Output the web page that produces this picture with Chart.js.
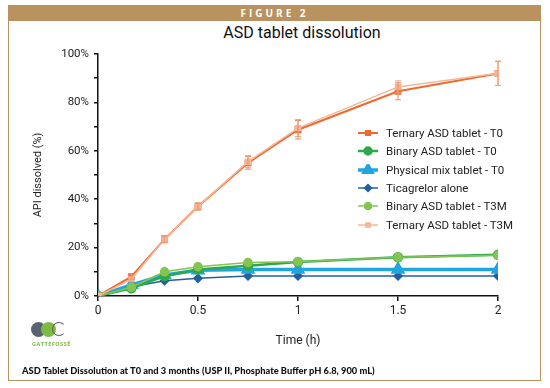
<!DOCTYPE html>
<html>
<head>
<meta charset="utf-8">
<script src="https://cdn.jsdelivr.net/npm/chart.js@4.4.1/dist/chart.umd.min.js"></script>
<style>
  html, body { margin: 0; padding: 0; background: #fff; }
  #wrap { position: relative; width: 550px; height: 388px; overflow: hidden; font-family: Roboto, "DejaVu Sans", sans-serif; }
  #frame { position: absolute; left: 8px; top: 5px; width: 533px; height: 376px; border: 1.5px solid #b9925f; box-sizing: border-box; }
  #head { position: absolute; left: 8px; top: 5px; width: 533px; height: 16px; background: #b9925f; color: #fff;
          font: bold 10px "Open Sans", sans-serif; letter-spacing: 3px; text-align: center; line-height: 16px; }
  #title { position: absolute; left: 0; width: 604px; top: 23px; text-align: center; font-size: 16px; color: #111; }
  #chart { position: absolute; left: 0; top: 0; }
  #legend { position: absolute; left: 358px; top: 124px; font-size: 11.5px; color: #222; }
  .row { height: 18.3px; display: flex; align-items: center; }
  .row canvas { margin-right: 8px; }
  #caption { position: absolute; left: 22px; top: 365px; font: 900 9.3px Lato, sans-serif; color: #111; }
  #logo { position: absolute; left: 31px; top: 322px; width: 60px; height: 30px; }
  .c1 { position: absolute; left: 0; top: 0; width: 15px; height: 15px; border-radius: 50%; background: #5a6470; }
  .c2 { position: absolute; left: 10px; top: 0; width: 15px; height: 15px; border-radius: 50%; background: #7dbb42; }
  .c3 { position: absolute; left: 21px; top: 0; width: 12px; height: 12px; border-radius: 50%; border: 1.5px solid #5a6470; border-right-color: transparent; }
  .lt { position: absolute; left: 1px; top: 18px; font: bold 5.5px "Open Sans", sans-serif; color: #7dbb42; letter-spacing: 0.5px; }
</style>
</head>
<body>
<div id="wrap">
  <div id="frame"></div>
  <div id="head">FIGURE 2</div>
  <div id="title">ASD tablet dissolution</div>
  <canvas id="chart" width="550" height="388"></canvas>
  <div id="legend"></div>
  <div id="logo"><div class="c1"></div><div class="c2"></div><div class="c3"></div><div class="lt">GATTEFOSSÉ</div></div>
  <div id="caption">ASD Tablet Dissolution at T0 and 3 months (USP II, Phosphate Buffer pH 6.8, 900 mL)</div>
</div>
<script>
// time points (h)
const timePoints = [0, 0.167, 0.333, 0.5, 0.75, 1, 1.5, 2];
const xTicks = [0, 0.5, 1, 1.5, 2];

// % API dissolved
const ternaryT0 = [0, 8, 23.5, 37, 55, 68.7, 84.6, 92];
const binaryT0 = [0, 3.2, 8.2, 11, 12.5, 14, 16, 17];
const physicalMixT0 = [0, 4.6, 8.7, 10.6, 11, 11, 11, 11];
const ticagrelor = [0, 3.8, 6.3, 7.3, 8.3, 8.3, 8.3, 8.3];
const binaryT3M = [0, 3.6, 10, 12.1, 13.8, 14.2, 16, 16.8];
const ternaryT3M = [0, 7, 23.5, 37, 55.5, 69.4, 86.4, 92];

// error bars (±)
const ternaryT0Err = [0, 1, 1.5, 1.5, 2.6, 3.8, 3.5, 5];
const ternaryT3MErr = [0, 1, 1.2, 1.5, 2.5, 3.5, 2.5, 5];

const pts = arr => arr.map((v, i) => ({ x: timePoints[i], y: v }));

const series = [
  { label: 'Ternary ASD tablet - T0', data: ternaryT0, color: '#ee6a2e', style: 'rect', r: 3.5, w: 2, order: 3 },
  { label: 'Binary ASD tablet - T0', data: binaryT0, color: '#2ea84a', style: 'circle', r: 4, w: 2.5, order: 4 },
  { label: 'Physical mix tablet - T0', data: physicalMixT0, color: '#1fa6e0', style: 'triangle', r: 5, w: 3.5, order: 5 },
  { label: 'Ticagrelor alone', data: ticagrelor, color: '#2360a0', style: 'rectRot', r: 4, w: 1.5, order: 6 },
  { label: 'Binary ASD tablet - T3M', data: binaryT3M, color: '#84c452', style: 'circle', r: 4, w: 1.5, order: 2 },
  { label: 'Ternary ASD tablet - T3M', data: ternaryT3M, color: '#f4b79a', style: 'rect', r: 3.5, w: 1.5, order: 1 }
];

const errorBars = {
  id: 'errorBars',
  afterDatasetsDraw(chart) {
    const { ctx, scales: { x, y } } = chart;
    [[ternaryT0, ternaryT0Err, '#ee8a5a'], [ternaryT3M, ternaryT3MErr, '#f0a07a']].forEach(([vals, errs, col]) => {
      ctx.save();
      ctx.strokeStyle = col; ctx.lineWidth = 1;
      vals.forEach((v, i) => {
        if (!errs[i]) return;
        const px = x.getPixelForValue(timePoints[i]);
        const top = y.getPixelForValue(v + errs[i]);
        const bot = y.getPixelForValue(v - errs[i]);
        ctx.beginPath();
        ctx.moveTo(px, top); ctx.lineTo(px, bot);
        ctx.moveTo(px - 3, top); ctx.lineTo(px + 3, top);
        ctx.moveTo(px - 3, bot); ctx.lineTo(px + 3, bot);
        ctx.stroke();
      });
      ctx.restore();
    });
  }
};

const axisFont = { size: 12, family: 'Roboto', weight: 'normal' };

new Chart(document.getElementById('chart'), {
  type: 'line',
  data: {
    datasets: series.map(s => ({
      label: s.label, data: pts(s.data), order: s.order,
      borderColor: s.color, backgroundColor: s.color,
      pointBackgroundColor: s.color, pointBorderColor: s.color,
      pointStyle: s.style, pointRadius: s.r, borderWidth: s.w, tension: 0
    }))
  },
  options: {
    responsive: false, animation: false,
    layout: { padding: { left: 26, top: 54, right: 52, bottom: 32 } },
    plugins: { legend: { display: false }, tooltip: { enabled: false } },
    scales: {
      x: {
        type: 'linear', min: 0, max: 2,
        afterBuildTicks: s => { s.ticks = xTicks.map(v => ({ value: v })); },
        afterFit: s => { s.height = 60; },
        border: { color: '#111', width: 1.5 },
        grid: { drawOnChartArea: false, tickLength: 5, color: '#111', lineWidth: 1.5 },
        ticks: { color: '#222', font: axisFont, padding: 3, callback: v => String(v) },
        title: { display: true, text: 'Time (h)', color: '#222', font: axisFont, padding: { bottom: 8 } }
      },
      y: {
        min: 0, max: 100,
        afterFit: s => { s.width = 72; },
        border: { color: '#111', width: 1.5 },
        grid: { drawOnChartArea: false, tickLength: 4, color: '#111', lineWidth: 1.5 },
        ticks: { stepSize: 10, color: '#222', font: { size: 11.5, family: 'Roboto', weight: 'normal' }, padding: 5,
                 callback: v => (v % 20 === 0 ? v + '%' : '') },
        title: { display: true, text: 'API dissolved (%)', color: '#222', font: { size: 11, family: 'Roboto', weight: 'normal' }, padding: { top: 6 } }
      }
    }
  },
  plugins: [errorBars]
});

// legend
const legend = document.getElementById('legend');
series.forEach(s => {
  const row = document.createElement('div'); row.className = 'row';
  const c = document.createElement('canvas'); c.width = 20; c.height = 12;
  const g = c.getContext('2d');
  g.strokeStyle = s.color; g.fillStyle = s.color; g.lineWidth = s.w;
  g.beginPath(); g.moveTo(0, 6); g.lineTo(20, 6); g.stroke();
  Chart.helpers.drawPoint(g, { pointStyle: s.style, radius: s.r - 0.5, borderWidth: 1 }, 10, 6);
  g.fill();
  row.appendChild(c);
  const t = document.createElement('span'); t.textContent = s.label;
  row.appendChild(t);
  legend.appendChild(row);
});
</script>
</body>
</html>
